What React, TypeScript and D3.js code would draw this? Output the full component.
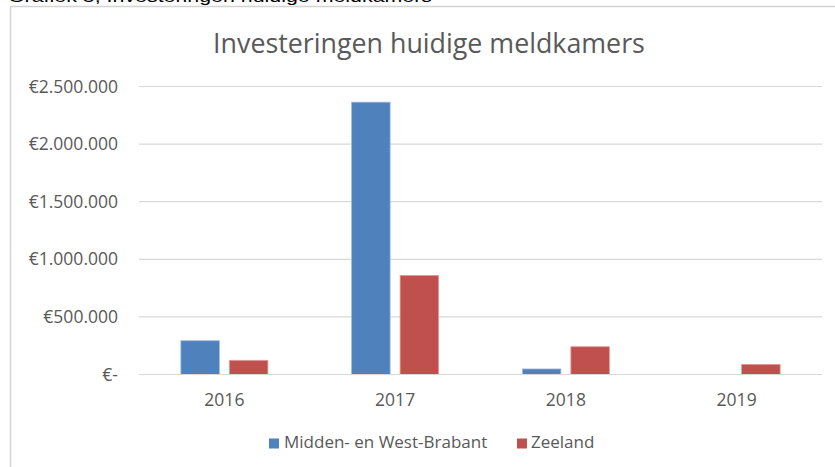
import React from "react";
import * as d3 from "d3";

const years = ["2016", "2017", "2018", "2019"];
const seriesNames = ["Midden- en West-Brabant", "Zeeland"];
const brabant = [293000, 2364000, 48000, 0];
const zeeland = [123000, 860000, 241000, 88000];
const yTicks = [0, 500000, 1000000, 1500000, 2000000, 2500000];
const colors = ["#4F81BD", "#C0504D"];

const W = 835;
const H = 467;
const FONT = "'Open Sans', 'Liberation Sans', sans-serif";

function fmt(v: number) {
  if (v === 0) return "€-";
  return "€" + d3.format(",")(v).replace(/,/g, ".");
}

export default function App() {
  const x0 = d3.scaleBand<string>().domain(years).range([139, 822]).padding(0);
  const groupW = 87;
  const x1 = d3
    .scaleBand<string>()
    .domain(seriesNames)
    .range([0, groupW])
    .paddingInner(0.206)
    .paddingOuter(0);
  const y = d3.scaleLinear().domain([0, 2500000]).range([374.5, 86.5]);
  const data = [brabant, zeeland];

  return (
    <svg
      width={W}
      height={H}
      style={{ position: "absolute", left: 0, top: 0, background: "#fff" }}
      fontFamily={FONT}
    >
      <rect x={0} y={0} width={W} height={H} fill="#fff" />
      <text
        x={8}
        y={2}
        fontFamily="'Liberation Sans', Arial, sans-serif"
        fontSize={16}
        fill="#000"
        textLength={424}
        lengthAdjust="spacingAndGlyphs"
      >
        Grafiek 5, Investeringen huidige meldkamers
      </text>
      <path d={`M10.5,${H + 2} V6.5 H${W + 2}`} fill="none" stroke="#D4D4D4" strokeWidth={1.5} />
      <text x={429} y={53} textAnchor="middle" fontSize={26.8} fill="#595959">
        Investeringen huidige meldkamers
      </text>
      {yTicks.map((t) => (
        <g key={t}>
          <line x1={139} x2={822} y1={y(t)} y2={y(t)} stroke="#D9D9D9" strokeWidth={1.2} />
          <text x={118} y={y(t) + 6} textAnchor="end" fontSize={17.5} fill="#595959">
            {fmt(t)}
          </text>
        </g>
      ))}
      {years.map((yr, i) => {
        const cx = (x0(yr) as number) + x0.bandwidth() / 2;
        const gx = cx - groupW / 2;
        return (
          <g key={yr}>
            {seriesNames.map((s, j) => {
              const v = data[j][i];
              if (v <= 0) return null;
              const bx = gx + (x1(s) as number);
              return (
                <rect
                  key={s}
                  x={bx}
                  y={y(v)}
                  width={x1.bandwidth()}
                  height={y(0) - y(v)}
                  fill={colors[j]}
                  stroke={j === 0 ? "#9DB9DE" : "#E09B99"}
                  strokeWidth={0.8}
                />
              );
            })}
            <text x={cx} y={406} textAnchor="middle" fontSize={17.5} fill="#595959">
              {yr}
            </text>
          </g>
        );
      })}
      <line x1={139} x2={822} y1={y(0)} y2={y(0)} stroke="#D9D9D9" strokeWidth={1.2} />
      <rect x={269} y={438.5} width={10} height={10} fill={colors[0]} />
      <text x={284} y={448} fontSize={17} fill="#595959">
        {seriesNames[0]}
      </text>
      <rect x={517} y={438.5} width={10} height={10} fill={colors[1]} />
      <text x={531} y={448} fontSize={17} fill="#595959">
        {seriesNames[1]}
      </text>
    </svg>
  );
}
